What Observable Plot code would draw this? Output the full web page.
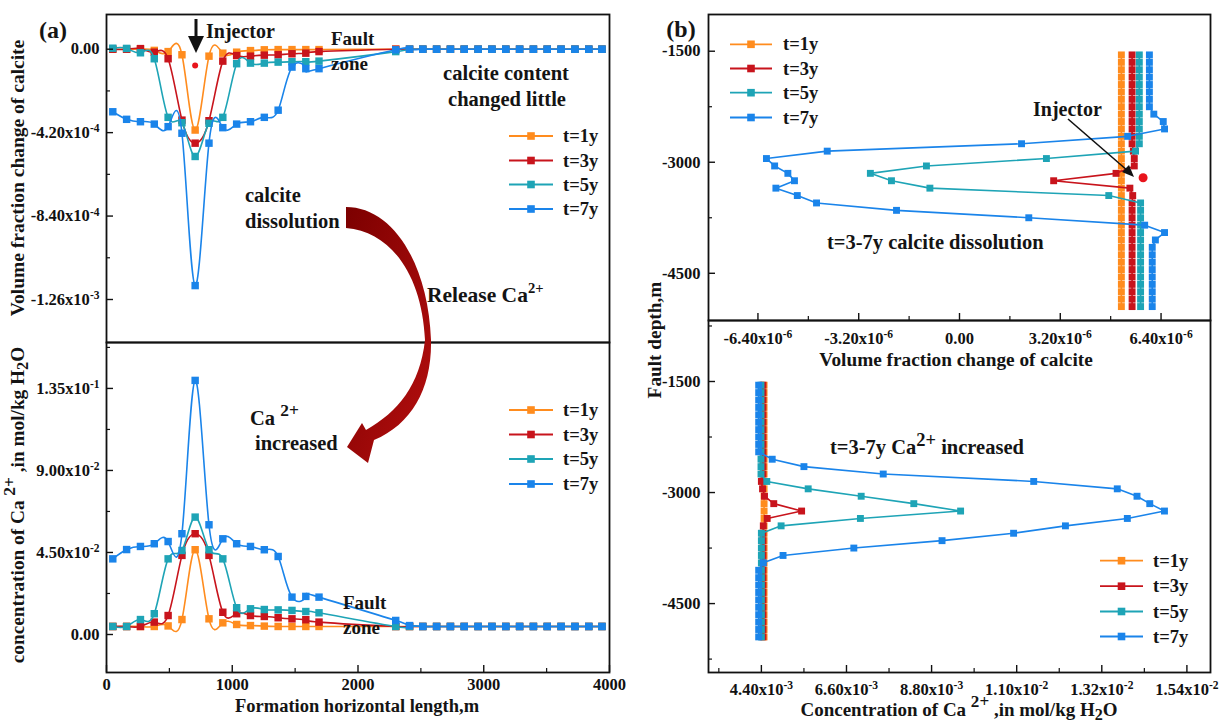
<!DOCTYPE html>
<html><head><meta charset="utf-8">
<script src="https://cdn.jsdelivr.net/npm/d3@7"></script>
<script src="https://cdn.jsdelivr.net/npm/@observablehq/plot@0.6"></script>
<style>
html,body{margin:0;padding:0;background:#fff;overflow:hidden}
#wrap{position:relative;width:1222px;height:726px;background:#fff}
#wrap svg{position:absolute;left:0;top:0}
text{white-space:pre}
</style></head><body><div id="wrap"></div>
<script>
// ---------- data ----------
const seriesNames = ["t=1y","t=3y","t=5y","t=7y"];
const seriesColors = ["#ff8c1e","#c8141c","#1ea4b6","#1a84ea"];

// Panel (a): formation horizontal length (m)
const xA = [50,160,270,380,490,600,705,815,925,1035,1145,1255,1365,1475,1585,1690,2300,2410,2515,2625,2735,2845,2955,3065,3175,3285,3395,3505,3615,3725,3835,3940];
const calcA_t1 = [0,0,0,-6e-6,-1.2e-5,-2.8e-5,-4.07e-4,-3.5e-5,-2.0e-5,-1.5e-5,-7e-6,-3e-6,-2e-6,-2e-6,-2e-6,-2e-6,0,0,0,0,0,0,0,0,0,0,0,0,0,0,0,0];
const calcA_t3 = [0,0,3e-6,-1.5e-5,-4.8e-5,-3.57e-4,-4.73e-4,-3.6e-4,-6e-5,-3.2e-5,-3.5e-5,-3e-5,-2.8e-5,-2.3e-5,-2e-5,-1.2e-5,0,0,0,0,0,0,0,0,0,0,0,0,0,0,0,0];
const calcA_t5 = [5e-6,4e-6,-1.8e-5,-4.8e-5,-3.43e-4,-3.7e-4,-5.4e-4,-3.73e-4,-3.43e-4,-7.3e-5,-7e-5,-7e-5,-6.5e-5,-6.3e-5,-6.3e-5,-6e-5,-1.2e-5,0,0,0,0,0,0,0,0,0,0,0,0,0,0,0];
const calcA_t7 = [-3.15e-4,-3.53e-4,-3.65e-4,-3.77e-4,-3.9e-4,-4.23e-4,-1.19e-3,-4.73e-4,-3.95e-4,-3.77e-4,-3.65e-4,-3.43e-4,-3.07e-4,-9e-5,-9.8e-5,-9.8e-5,-3e-6,0,0,0,0,0,0,0,0,0,0,0,0,0,0,0];
const caA_t1 = [0.0044,0.0044,0.0044,0.0044,0.0047,0.0082,0.0465,0.0086,0.0064,0.0055,0.0049,0.0046,0.0044,0.0044,0.0044,0.0044,0.0044,0.0044,0.0044,0.0044,0.0044,0.0044,0.0044,0.0044,0.0044,0.0044,0.0044,0.0044,0.0044,0.0044,0.0044,0.0044];
const caA_t3 = [0.0044,0.0044,0.0044,0.0068,0.0104,0.0434,0.0553,0.0434,0.0122,0.0114,0.0104,0.0099,0.0092,0.0086,0.0081,0.0068,0.0044,0.0044,0.0044,0.0044,0.0044,0.0044,0.0044,0.0044,0.0044,0.0044,0.0044,0.0044,0.0044,0.0044,0.0044,0.0044];
const caA_t5 = [0.0044,0.0044,0.0082,0.0114,0.0415,0.0461,0.0644,0.0465,0.0415,0.0147,0.0141,0.0137,0.0135,0.0132,0.0126,0.0119,0.0044,0.0044,0.0044,0.0044,0.0044,0.0044,0.0044,0.0044,0.0044,0.0044,0.0044,0.0044,0.0044,0.0044,0.0044,0.0044];
const caA_t7 = [0.0415,0.0466,0.0483,0.0498,0.0510,0.0553,0.1394,0.0602,0.0525,0.0498,0.0483,0.0465,0.0428,0.0205,0.0209,0.0205,0.0077,0.0049,0.0044,0.0044,0.0044,0.0044,0.0044,0.0044,0.0044,0.0044,0.0044,0.0044,0.0044,0.0044,0.0044,0.0044];

// Panel (b): fault depth (m)
const depthB = [-1550,-1650,-1750,-1850,-1950,-2050,-2150,-2250,-2350,-2450,-2550,-2650,-2750,-2850,-2950,-3050,-3150,-3250,-3350,-3450,-3550,-3650,-3750,-3850,-3950,-4050,-4150,-4250,-4350,-4450,-4550,-4650,-4750,-4850,-4950];
const calcB_t1 = [5.14e-6,5.14e-6,5.14e-6,5.14e-6,5.14e-6,5.14e-6,5.14e-6,5.14e-6,5.14e-6,5.14e-6,5.14e-6,5.14e-6,5.14e-6,5.14e-6,5.14e-6,5.14e-6,5.14e-6,5.14e-6,5.14e-6,5.14e-6,5.14e-6,5.14e-6,5.14e-6,5.14e-6,5.14e-6,5.14e-6,5.14e-6,5.14e-6,5.14e-6,5.14e-6,5.14e-6,5.14e-6,5.14e-6,5.14e-6,5.14e-6];
const calcB_t3 = [5.48e-6,5.48e-6,5.48e-6,5.48e-6,5.48e-6,5.48e-6,5.48e-6,5.48e-6,5.48e-6,5.48e-6,5.48e-6,5.48e-6,5.48e-6,5.52e-6,5.55e-6,5.55e-6,4.97e-6,2.99e-6,5.41e-6,5.50e-6,5.48e-6,5.48e-6,5.48e-6,5.48e-6,5.48e-6,5.48e-6,5.48e-6,5.48e-6,5.48e-6,5.48e-6,5.48e-6,5.48e-6,5.48e-6,5.48e-6,5.48e-6];
const calcB_t5 = [5.71e-6,5.71e-6,5.71e-6,5.71e-6,5.71e-6,5.71e-6,5.71e-6,5.71e-6,5.71e-6,5.71e-6,5.71e-6,5.71e-6,5.71e-6,5.59e-6,2.76e-6,-1.05e-6,-2.83e-6,-2.16e-6,-0.94e-6,4.74e-6,5.75e-6,5.75e-6,5.75e-6,5.75e-6,5.75e-6,5.75e-6,5.75e-6,5.75e-6,5.75e-6,5.75e-6,5.75e-6,5.75e-6,5.75e-6,5.75e-6,5.75e-6];
const calcB_t7 = [6.03e-6,6.03e-6,6.03e-6,6.03e-6,6.03e-6,6.03e-6,6.03e-6,6.03e-6,6.17e-6,6.47e-6,6.51e-6,5.34e-6,1.97e-6,-4.20e-6,-6.13e-6,-5.87e-6,-5.45e-6,-5.24e-6,-5.83e-6,-5.15e-6,-4.54e-6,-2.00e-6,2.20e-6,5.88e-6,6.51e-6,6.22e-6,6.12e-6,6.12e-6,6.12e-6,6.12e-6,6.12e-6,6.12e-6,6.12e-6,6.12e-6,6.12e-6];
const caB_t1 = [4.47e-3,4.47e-3,4.47e-3,4.47e-3,4.47e-3,4.47e-3,4.47e-3,4.47e-3,4.47e-3,4.47e-3,4.47e-3,4.47e-3,4.47e-3,4.47e-3,4.47e-3,4.47e-3,4.47e-3,4.47e-3,4.47e-3,4.47e-3,4.47e-3,4.47e-3,4.47e-3,4.47e-3,4.47e-3,4.47e-3,4.47e-3,4.47e-3,4.47e-3,4.47e-3,4.47e-3,4.47e-3,4.47e-3,4.47e-3,4.47e-3];
const caB_t3 = [4.44e-3,4.44e-3,4.44e-3,4.44e-3,4.44e-3,4.44e-3,4.44e-3,4.44e-3,4.44e-3,4.44e-3,4.44e-3,4.44e-3,4.44e-3,4.40e-3,4.43e-3,4.48e-3,4.72e-3,5.44e-3,4.55e-3,4.45e-3,4.44e-3,4.44e-3,4.44e-3,4.44e-3,4.44e-3,4.44e-3,4.44e-3,4.44e-3,4.44e-3,4.44e-3,4.44e-3,4.44e-3,4.44e-3,4.44e-3,4.44e-3];
const caB_t5 = [4.39e-3,4.39e-3,4.39e-3,4.39e-3,4.39e-3,4.39e-3,4.39e-3,4.39e-3,4.39e-3,4.39e-3,4.39e-3,4.39e-3,4.39e-3,4.54e-3,5.61e-3,6.98e-3,8.34e-3,9.55e-3,6.96e-3,4.91e-3,4.40e-3,4.40e-3,4.40e-3,4.40e-3,4.40e-3,4.40e-3,4.40e-3,4.40e-3,4.40e-3,4.40e-3,4.40e-3,4.40e-3,4.40e-3,4.40e-3,4.40e-3];
const caB_t7 = [4.33e-3,4.33e-3,4.33e-3,4.33e-3,4.33e-3,4.33e-3,4.33e-3,4.33e-3,4.33e-3,4.33e-3,4.68e-3,5.50e-3,7.55e-3,11.44e-3,13.60e-3,14.11e-3,14.44e-3,14.82e-3,13.86e-3,12.26e-3,10.92e-3,9.07e-3,6.79e-3,4.96e-3,4.45e-3,4.33e-3,4.33e-3,4.33e-3,4.33e-3,4.33e-3,4.33e-3,4.33e-3,4.33e-3,4.33e-3,4.33e-3];

// injector markers
const injectorA = [{x:705, y:-8.2e-5}];
const injectorB = [{v:5.83e-6, d:-3210}];

// ticks
const xTicksA = [0,1000,2000,3000,4000];
const xTickLabelsA = ["0","1000","2000","3000","4000"];
const xMinorA = [500,1500,2500,3500];
const yTicksTopA = [0,-4.2e-4,-8.4e-4,-1.26e-3];
const yTickLabelsTopA = ["0.00","-4.20x10^-4","-8.40x10^-4","-1.26x10^-3"];
const yMinorTopA = [-2.1e-4,-6.3e-4,-1.05e-3];
const yTicksBotA = [0,0.045,0.09,0.135];
const yTickLabelsBotA = ["0.00","4.50x10^-2","9.00x10^-2","1.35x10^-1"];
const yMinorBotA = [0.0225,0.0675,0.1125,0.1575];
const depthTicks = [-1500,-3000,-4500];
const depthTickLabels = ["-1500","-3000","-4500"];
const depthMinorTop = [-2250,-3750];
const depthMinorBot = [-750,-2250,-3750,-5250];
const xTicksTopB = [-6.4e-6,-3.2e-6,0,3.2e-6,6.4e-6];
const xTickLabelsTopB = ["-6.40x10^-6","-3.20x10^-6","0.00","3.20x10^-6","6.40x10^-6"];
const xMinorTopB = [-4.8e-6,-1.6e-6,1.6e-6,4.8e-6];
const xTicksBotB = [4.4e-3,6.6e-3,8.8e-3,1.1e-2,1.32e-2,1.54e-2];
const xTickLabelsBotB = ["4.40x10^-3","6.60x10^-3","8.80x10^-3","1.10x10^-2","1.32x10^-2","1.54x10^-2"];
const xMinorBotB = [3.3e-3,5.5e-3,7.7e-3,9.9e-3,1.21e-2,1.43e-2];

// ---------- build ----------
const W = 1222, H = 726;
const FONT = "'Liberation Serif','Times New Roman',serif";
const wrap = document.getElementById("wrap");

function rowsA(vals){ return vals.map((v,i)=>({x:xA[i], y:v})); }
function rowsB(vals){ return vals.map((v,i)=>({v, d:depthB[i]})); }
function lab(vals, labels){ return d => { const i = vals.findIndex(t => Math.abs(t-d) < 1e-12); return i<0 ? "" : labels[i]; }; }

function panel({left,right,top,bottom,xDomain,yDomain,marks,xAxis,yAxis}){
  const pw = right-left, ph = bottom-top;
  const m = [...marks];
  if (yAxis){
    m.push(Plot.axisY({anchor:"left", ticks:yAxis.ticks, tickFormat:lab(yAxis.ticks,yAxis.labels), tickSize:0, tickPadding:yAxis.pad ?? 7, label:null}));
    m.push(Plot.tickY(yAxis.ticks, {y:d=>d, stroke:"#111", strokeWidth:1.4, insetRight:pw-7}));
    m.push(Plot.tickY(yAxis.minor, {y:d=>d, stroke:"#111", strokeWidth:1.2, insetRight:pw-4}));
  }
  if (xAxis){
    m.push(Plot.axisX({anchor:"bottom", ticks:xAxis.ticks, tickFormat:lab(xAxis.ticks,xAxis.labels), tickSize:0, tickPadding:xAxis.pad ?? 8, label:null}));
    m.push(Plot.tickX(xAxis.ticks, {x:d=>d, stroke:"#111", strokeWidth:1.4, insetTop:ph-7}));
    m.push(Plot.tickX(xAxis.minor, {x:d=>d, stroke:"#111", strokeWidth:1.2, insetTop:ph-4}));
  }
  m.push(Plot.frame({stroke:"#111", strokeWidth:1.8}));
  const svg = Plot.plot({
    width:W, height:H,
    marginLeft:left, marginRight:W-right, marginTop:top, marginBottom:H-bottom,
    x:{domain:xDomain, ...(xAxis?{}:{axis:null})},
    y:{domain:yDomain, ...(yAxis?{}:{axis:null})},
    style:{fontFamily:FONT, fontSize:"16.5px", fontWeight:"bold", color:"#111", background:"transparent", overflow:"visible"},
    marks:m
  });
  // superscripts in tick labels
  d3.select(svg).selectAll("text").each(function(){
    const t = this.textContent, i = t.indexOf("^");
    if (i < 0) return;
    const s = d3.select(this); s.text(null);
    s.append("tspan").text(t.slice(0,i));
    s.append("tspan").attr("dy","-0.5em").attr("font-size","0.7em").text(t.slice(i+1));
  });
  wrap.appendChild(svg);
  return svg;
}

const allA = [calcA_t1,calcA_t3,calcA_t5,calcA_t7];
const allCaA = [caA_t1,caA_t3,caA_t5,caA_t7];
const allB = [calcB_t1,calcB_t3,calcB_t5,calcB_t7];
const allCaB = [caB_t1,caB_t3,caB_t5,caB_t7];

function seriesMarksA(all, r){
  const out = [];
  all.forEach((vals,i)=>{
    const rows = rowsA(vals);
    out.push(Plot.line(rows, {x:"x", y:"y", stroke:seriesColors[i], strokeWidth:1.6, curve:"natural"}));
    out.push(Plot.dot(rows, {x:"x", y:"y", symbol:"square", fill:seriesColors[i], r, stroke:null}));
  });
  return out;
}
function seriesMarksB(all, r){
  const out = [];
  all.forEach((vals,i)=>{
    const rows = rowsB(vals);
    out.push(Plot.line(rows, {x:"v", y:"d", stroke:seriesColors[i], strokeWidth:1.6}));
    out.push(Plot.dot(rows, {x:"v", y:"d", symbol:"square", fill:seriesColors[i], r, stroke:null}));
  });
  return out;
}

// (a) top
panel({left:106,right:609,top:14,bottom:342,
  xDomain:[0,4000], yDomain:[-1.4765e-3,1.747e-4],
  marks:[...seriesMarksA(allA,4.2), Plot.dot(injectorA,{x:"x",y:"y",fill:"#e8141c",r:3,stroke:null})],
  yAxis:{ticks:yTicksTopA, labels:yTickLabelsTopA, minor:yMinorTopA}});
// (a) bottom
panel({left:106,right:609,top:342,bottom:672,
  xDomain:[0,4000], yDomain:[-0.02085,0.1602],
  marks:seriesMarksA(allCaA,4.2),
  yAxis:{ticks:yTicksBotA, labels:yTickLabelsBotA, minor:yMinorBotA},
  xAxis:{ticks:xTicksA, labels:xTickLabelsA, minor:xMinorA, pad:6}});
// (b) top
panel({left:708,right:1210,top:14,bottom:320,
  xDomain:[-7.97e-6,7.97e-6], yDomain:[-5138,-1004],
  marks:[...seriesMarksB(allB,3.9), Plot.dot(injectorB,{x:"v",y:"d",fill:"#e8141c",r:4.5,stroke:null})],
  yAxis:{ticks:depthTicks, labels:depthTickLabels, minor:depthMinorTop, pad:8},
  xAxis:{ticks:xTicksTopB, labels:xTickLabelsTopB, minor:xMinorTopB, pad:12}});
// (b) bottom
panel({left:708,right:1210,top:320,bottom:672,
  xDomain:[3.033e-3,1.601e-2], yDomain:[-5431,-676],
  marks:seriesMarksB(allCaB,3.9),
  yAxis:{ticks:depthTicks, labels:depthTickLabels, minor:depthMinorBot, pad:8},
  xAxis:{ticks:xTicksBotB, labels:xTickLabelsBotB, minor:xMinorBotB, pad:11}});

// ---------- annotations overlay ----------
const ov = d3.create("svg").attr("width",W).attr("height",H)
  .style("font-family",FONT).style("font-weight","bold").style("fill","#141414");
const defs = ov.append("defs");
const grad = defs.append("linearGradient").attr("id","rg").attr("x1","0").attr("y1","0").attr("x2","1").attr("y2","1");
grad.append("stop").attr("offset","0").attr("stop-color","#7c0000");
grad.append("stop").attr("offset","1").attr("stop-color","#b50f0f");

function rich(x, y, parts, {size=18, anchor="start", rotate=0}={}){
  const t = ov.append("text").attr("transform",`translate(${x},${y}) rotate(${rotate})`)
    .attr("text-anchor",anchor).attr("font-size",size).attr("fill","#141414");
  let shift = 0;
  for (const p of parts){
    const s = typeof p === "string" ? {t:p} : p;
    const target = s.sup ? -size*(s.up ?? 0.42) : s.sub ? size*0.2 : 0;
    const ts = t.append("tspan").text(s.t).attr("dy", target - shift);
    if (s.fs) ts.attr("font-size", s.fs*size);
    shift = target;
  }
  return t;
}
function legend(x0, x1, xt, ys, size){
  seriesNames.forEach((n,i)=>{
    const y = ys[i];
    ov.append("line").attr("x1",x0).attr("x2",x1).attr("y1",y).attr("y2",y).attr("stroke",seriesColors[i]).attr("stroke-width",1.8);
    const xm=(x0+x1)/2;
    ov.append("rect").attr("x",xm-3.8).attr("y",y-3.8).attr("width",7.6).attr("height",7.6).attr("fill",seriesColors[i]);
    rich(xt, y+6, [n], {size});
  });
}

// panel letters
rich(53, 38, ["(a)"], {size:24, anchor:"middle"});
rich(681, 37, ["(b)"], {size:24, anchor:"middle"});

// (a) top annotations
rich(206, 38, ["Injector"], {size:20});
ov.append("line").attr("x1",196).attr("x2",196).attr("y1",19).attr("y2",40).attr("stroke","#111").attr("stroke-width",3);
ov.append("path").attr("d","M188,36 L204,36 L196,53 Z").attr("fill","#111");
rich(331, 45, ["Fault"], {size:19});
rich(331, 70, ["zone"], {size:19});
rich(506, 80, ["calcite content"], {size:20.5, anchor:"middle"});
rich(507, 106, ["changed little"], {size:20.5, anchor:"middle"});
legend(509, 553, 563, [136,160.5,184.5,209], 18.5);
rich(245, 202, ["calcite"], {size:20.5});
rich(245, 228, ["dissolution"], {size:20.5});

// curved arrow
ov.append("path").attr("fill","url(#rg)")
  .attr("d","M346,207 C392,207 428,262 431,340 C432,388 412,424 374,440 L368,463 L347,447 L362,423 L366,430 C398,412 420,385 425,340 C422,276 392,232 346,228 Z");
rich(427, 302, ["Release Ca", {t:"2+", sup:true, fs:0.68, up:0.4}], {size:21.5});

// (a) bottom annotations
legend(509, 553, 563, [410,434.5,459,484], 18.5);
rich(250, 425, ["Ca ", {t:"2+", sup:true, fs:0.85, up:0.45}], {size:20.5});
rich(255, 450, ["increased"], {size:20.5});
rich(343, 609, ["Fault"], {size:19});
rich(343, 634, ["zone"], {size:19});

// (b) annotations
legend(730, 772, 783, [44.3,68.5,92.7,117.5], 18.5);
rich(1033, 116, ["Injector"], {size:20});
ov.append("line").attr("x1",1068).attr("y1",119).attr("x2",1128).attr("y2",171).attr("stroke","#111").attr("stroke-width",1.6);
ov.append("path").attr("d","M1134,177 L1122,172 L1129,165 Z").attr("fill","#111");
rich(827, 249, ["t=3-7y calcite dissolution"], {size:20.5});
rich(830, 454, ["t=3-7y Ca", {t:"2+", sup:true, fs:0.9, up:0.4}, " increased"], {size:20.5});
legend(1100, 1143, 1153, [560.7,586.2,611.5,636.5], 18.5);

// axis titles
rich(357, 712, ["Formation horizontal length,m"], {size:18.5, anchor:"middle"});
rich(956, 366, ["Volume fraction change of calcite"], {size:19.3, anchor:"middle"});
rich(959, 716, ["Concentration of Ca ", {t:"2+", sup:true, fs:0.9, up:0.45}, " ,in mol/kg H", {t:"2", sub:true, fs:0.85}, "O"], {size:19, anchor:"middle"});
rich(24, 178, ["Volume fraction change of calcite"], {size:19.5, anchor:"middle", rotate:-90});
rich(24, 505, ["concentration of Ca ", {t:"2+", sup:true, fs:0.9, up:0.45}, " ,in mol/kg H", {t:"2", sub:true, fs:0.85}, "O"], {size:19.3, anchor:"middle", rotate:-90});
rich(661, 340, ["Fault depth,m"], {size:19.3, anchor:"middle", rotate:-90});

wrap.appendChild(ov.node());
</script></body></html>
